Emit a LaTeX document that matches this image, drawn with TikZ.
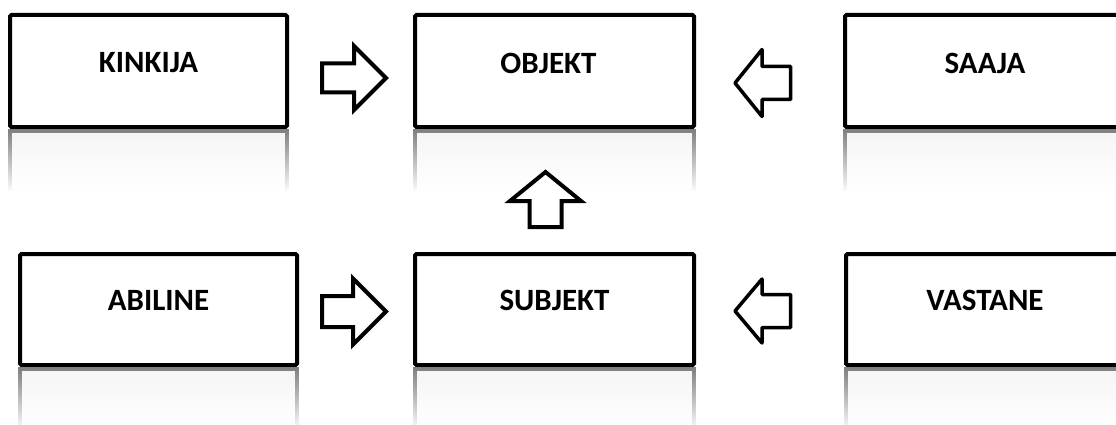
\documentclass[tikz,border=0pt]{standalone}
\usepackage{fontspec}
\setmainfont{Carlito}
\usetikzlibrary{fadings,calc}
\tikzfading[name=reflfade, top color=transparent!0, bottom color=transparent!100]
\tikzset{
  box/.style={draw=black, line width=4pt, rounded corners=1.5pt, fill=white,
    minimum width=278pt, minimum height=112pt, inner sep=0pt, outer sep=0pt},
  lbl/.style={font=\fontsize{31}{36}\selectfont\bfseries, inner sep=0pt, text=black},
  refl/.style={draw=black!50, line width=4pt, path fading=reflfade},
  reflfill/.style={fill=black!4, draw=none, path fading=reflfade},
  blkR/.style={draw=black, line width=4pt, line join=miter, fill=white},
  blkL/.style={draw=black, line width=3.5pt, line join=round, fill=white},
}
\newcommand{\mkreflect}[1]{%
  \fill[reflfill] ([yshift=-4pt]#1.south west) rectangle ([yshift=-64pt]#1.south east);
  \draw[refl] ([yshift=-64pt]#1.south west) -- ([yshift=-4.5pt]#1.south west)
     -- ([yshift=-4.5pt]#1.south east) -- ([yshift=-64pt]#1.south east);
}
\begin{document}
\begin{tikzpicture}[x=1pt,y=1pt]
\useasboundingbox (0,0) rectangle (1116,424);
\clip (0,0) rectangle (1116,424);
% boxes
\node[box, minimum width=277pt] (kin) at (148.5,353) {};
\node[box, minimum width=279pt] (obj) at (554.5,353) {};
\node[box, minimum width=280pt] (saa) at (985,353) {};
\node[box, minimum width=277pt, minimum height=111pt] (abi) at (158.5,114.5) {};
\node[box, minimum width=279pt, minimum height=111pt] (sub) at (554.5,114.5) {};
\node[box, minimum width=278pt, minimum height=111pt] (vas) at (985,114.5) {};
% reflections
\mkreflect{kin}
\mkreflect{obj}
\mkreflect{saa}
\mkreflect{abi}
\mkreflect{sub}
\mkreflect{vas}
% labels
\node[lbl] (kint) at ($(kin.center)+(0,8)$) {KINKIJA};
\node[lbl] (objt) at ($(obj.center)+(-6,8)$) {OBJEKT};
\node[lbl] (saat) at ($(saa.center)+(0,8)$) {SAAJA};
\node[lbl] (abit) at ($(abi.center)+(0,9)$) {ABILINE};
\node[lbl] (subt) at ($(sub.center)+(0,9)$) {SUBJEKT};
\node[lbl] (vast) at ($(vas.center)+(0,9)$) {VASTANE};
% arrow anchors
\coordinate (a1) at (354,346);
\coordinate (a2) at (762,341);
\coordinate (a3) at (354,112.5);
\coordinate (a4) at (762,113);
\coordinate (a5) at (545.5,223);
% right-pointing block arrows
\draw[blkR, shift={(a1)}] (-32,14.5) -- (0,14.5) -- (0,32) -- (32,0) -- (0,-32) -- (0,-14.5) -- (-32,-14.5) -- cycle;
\draw[blkR, shift={(a3)}] (-32,15.5) -- (-1,15.5) -- (-1,33) -- (32,0) -- (-1,-33) -- (-1,-15.5) -- (-32,-15.5) -- cycle;
% left-pointing block arrows
\draw[blkL, shift={(a2)}] (28.5,16.5) -- (0,16.5) -- (0,33.5) -- (-27,0) -- (0,-33.5) -- (0,-16.5) -- (28.5,-16.5) -- cycle;
\draw[blkL, shift={(a4)}] (28.5,16.5) -- (0,16.5) -- (0,32) -- (-27,0) -- (0,-32) -- (0,-16.5) -- (28.5,-16.5) -- cycle;
% up arrow
\draw[blkR, shift={(a5)}] (-16,-26) -- (-16,0) -- (-35.5,0) -- (0,29) -- (35.5,0) -- (16,0) -- (16,-26) -- cycle;
\end{tikzpicture}
\end{document}
